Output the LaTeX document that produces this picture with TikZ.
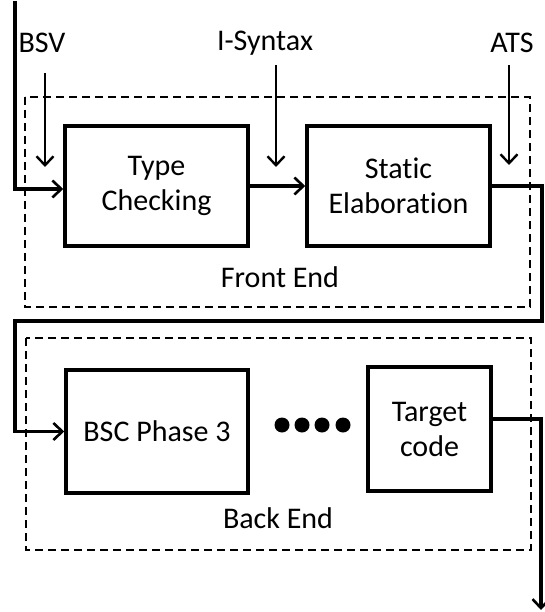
\documentclass[tikz,border=0pt]{standalone}
\usepackage{fontspec}
\setmainfont{Carlito}[Ligatures=NoCommon]
\usetikzlibrary{arrows.meta}
\begin{document}
\begin{tikzpicture}[x=1pt,y=-1pt,
  stagebox/.style={draw, line width=3.5pt, minimum width=183pt, minimum height=120pt, align=center, inner sep=0pt,
    font=\fontsize{30}{35}\selectfont},
  lbl/.style={inner sep=0pt, font=\fontsize{30}{35}\selectfont},
  groupbox/.style={draw, line width=2.4pt, dash pattern=on 8pt off 5pt},
  flow/.style={line width=3.8pt, -{Straight Barb[length=9pt, width=17pt, line width=2.6pt]}},
  inarrow/.style={line width=2.2pt, -{Straight Barb[length=9pt, width=17pt, line width=2.4pt]}},
  dotmark/.style={circle, fill, inner sep=0pt, minimum size=15pt}]
\useasboundingbox (0,0) rectangle (545,612);
% group boxes
\draw[groupbox] (25,97) rectangle (530,307);
\draw[groupbox] (26,338) rectangle (531,550);
% stages
\node[stagebox] (tc) at (156.5,186) {Type\\Checking};
\node[stagebox] (se) at (398.5,186) {Static\\Elaboration};
\node[stagebox, minimum width=182pt, minimum height=123pt] (bsc) at (157,431.5) {BSC Phase 3};
\node[stagebox, minimum width=123pt, minimum height=124pt] (tgt) at (429.5,429) {Target\\code};
% group labels
\node[lbl] (fe) at (280,277) {Front End};
\node[lbl] (be) at (278,518) {Back End};
% dots
\node[dotmark] (d1) at (282,425) {};
\node[dotmark] (d2) at (302,425) {};
\node[dotmark] (d3) at (322,425) {};
\node[dotmark] (d4) at (343,425) {};
% input labels
\node[lbl] (bsv) at (42,43) {BSV};
\node[lbl] (isyn) at (265,43) {I-Syntax};
\node[lbl] (ats) at (512,43) {ATS};
\coordinate (bsvS) at (45,73);
\coordinate (bsvE) at (45,167);
\coordinate (isynS) at (276,65);
\coordinate (isynE) at (276,167);
\coordinate (atsS) at (509,65);
\coordinate (atsE) at (509,165);
\draw[inarrow] (bsvS) -- (bsvE);
\draw[inarrow] (isynS) -- (isynE);
\draw[inarrow] (atsS) -- (atsE);
% main flow
\coordinate (start) at (15,1);
\coordinate (ret1) at (542,321);
\coordinate (ret2) at (15,321);
\coordinate (outE) at (541,610);
\draw[flow] (start) |- ([yshift=-3pt]tc.west);
\draw[flow] (tc.east) -- (se.west |- tc.east);
\draw[flow] (se.east) -| (ret1) -- (ret2) |- (bsc.west);
\draw[flow] ([yshift=10pt]tgt.east) -| (outE);
\end{tikzpicture}
\end{document}
